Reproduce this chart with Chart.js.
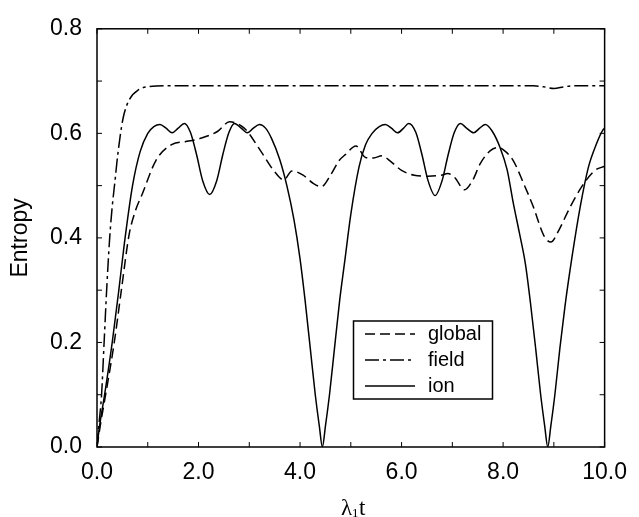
<!DOCTYPE html>
<html>
<head>
<meta charset="utf-8">
<script src="https://cdn.jsdelivr.net/npm/chart.js@4.4.1/dist/chart.umd.min.js"></script>
<style>
  body { margin: 0; background: #fff; }
</style>
</head>
<body>
<canvas id="entropyChart" width="639" height="517"></canvas>
<script>
// ---- data ----
const ionT = [0, 0.05, 0.15, 0.30, 0.43, 0.54, 0.70, 0.85, 1.00, 1.12, 1.24, 1.36, 1.48, 1.60, 1.72, 1.84, 1.96, 2.08, 2.22,
  2.36, 2.48, 2.60, 2.71, 2.84, 2.96, 3.08, 3.20, 3.32, 3.44, 3.60, 3.74, 3.88, 4.00, 4.10, 4.20, 4.30, 4.38, 4.44,
  4.50, 4.58, 4.68, 4.78, 4.88, 5.00, 5.16, 5.29, 5.42, 5.56, 5.68, 5.80, 5.92, 6.04, 6.14, 6.28, 6.40, 6.52, 6.66,
  6.80, 6.92, 7.04, 7.16, 7.28, 7.42, 7.54, 7.65, 7.78, 7.94, 8.08, 8.20, 8.32, 8.44, 8.54, 8.64, 8.74, 8.82, 8.88,
  8.94, 9.02, 9.12, 9.22, 9.36, 9.52, 9.68, 9.84, 9.97, 10.0];
const ionS = [0, 0.04, 0.10, 0.20, 0.30, 0.39, 0.50, 0.565, 0.600, 0.613, 0.617, 0.610, 0.601, 0.610, 0.619, 0.602, 0.560, 0.510, 0.483,
  0.510, 0.560, 0.602, 0.619, 0.610, 0.601, 0.610, 0.617, 0.610, 0.590, 0.550, 0.500, 0.435, 0.360, 0.280, 0.190, 0.100, 0.040, 0,
  0.040, 0.100, 0.190, 0.280, 0.355, 0.445, 0.535, 0.578, 0.600, 0.613, 0.617, 0.610, 0.601, 0.610, 0.619, 0.602, 0.560, 0.510, 0.481,
  0.510, 0.560, 0.602, 0.619, 0.610, 0.601, 0.610, 0.617, 0.605, 0.573, 0.530, 0.467, 0.410, 0.350, 0.275, 0.190, 0.100, 0.040, 0,
  0.040, 0.100, 0.190, 0.270, 0.365, 0.460, 0.535, 0.580, 0.607, 0.610];

const globalT = [0, 0.08, 0.17, 0.34, 0.48, 0.63, 0.75, 0.90, 1.16, 1.48, 1.74, 2.06, 2.38, 2.61, 2.90, 3.22, 3.48, 3.68, 3.84,
  4.06, 4.25, 4.42, 4.60, 4.77, 4.90, 5.10, 5.29, 5.45, 5.61, 5.80, 6.00, 6.25, 6.52, 6.78, 6.91, 7.05, 7.24, 7.40, 7.55,
  7.75, 7.91, 8.05, 8.20, 8.40, 8.59, 8.80, 8.94, 9.10, 9.30, 9.55, 9.81, 10.0];
const globalS = [0, 0.05, 0.10, 0.20, 0.30, 0.405, 0.45, 0.486, 0.548, 0.579, 0.584, 0.591, 0.604, 0.622, 0.610, 0.567, 0.529, 0.511, 0.528,
  0.520, 0.505, 0.498, 0.520, 0.548, 0.560, 0.576, 0.554, 0.553, 0.557, 0.545, 0.529, 0.520, 0.518, 0.520, 0.523, 0.515, 0.492, 0.510, 0.542,
  0.567, 0.573, 0.565, 0.548, 0.505, 0.461, 0.405, 0.392, 0.415, 0.455, 0.498, 0.529, 0.537];

const fieldT = [0, 0.04, 0.09, 0.14, 0.19, 0.25, 0.30, 0.35, 0.41, 0.51, 0.64, 0.83, 1.0, 1.5, 3.0, 5.0, 7.0, 8.6, 8.8, 9.0, 9.2, 9.4, 10.0];
const fieldS = [0, 0.045, 0.10, 0.20, 0.30, 0.40, 0.46, 0.505, 0.56, 0.627, 0.665, 0.684, 0.689, 0.691, 0.691, 0.691, 0.691, 0.691, 0.689, 0.686, 0.689, 0.691, 0.691];

const seriesNames = ["global", "field", "ion"];
const xTickLabels = ["0.0", "2.0", "4.0", "6.0", "8.0", "10.0"];
const yTickLabels = ["0.0", "0.2", "0.4", "0.6", "0.8"];

const FONT = "'Liberation Sans', Arial, sans-serif";

function pts(ts, vs) {
  return ts.map((t, i) => ({ x: t, y: vs[i] }));
}

// frame with inward ticks on all four sides
const framePlugin = {
  id: "frame",
  afterDatasetsDraw(chart) {
    const { ctx, chartArea: a, scales } = chart;
    ctx.save();
    ctx.strokeStyle = "#000";
    ctx.lineWidth = 1.5;
    ctx.strokeRect(a.left, a.top, a.right - a.left, a.bottom - a.top);
    ctx.lineWidth = 1;
    const len = 5;
    scales.x.ticks.forEach(t => {
      const px = scales.x.getPixelForValue(t.value);
      ctx.beginPath();
      ctx.moveTo(px, a.bottom); ctx.lineTo(px, a.bottom - len);
      ctx.moveTo(px, a.top); ctx.lineTo(px, a.top + len);
      ctx.stroke();
    });
    scales.y.ticks.forEach(t => {
      const py = scales.y.getPixelForValue(t.value);
      ctx.beginPath();
      ctx.moveTo(a.left, py); ctx.lineTo(a.left + len, py);
      ctx.moveTo(a.right, py); ctx.lineTo(a.right - len, py);
      ctx.stroke();
    });
    ctx.restore();
  }
};

// boxed legend inside the plot, and the x axis title with subscript
const legendPlugin = {
  id: "boxLegend",
  afterDraw(chart) {
    const { ctx } = chart;
    ctx.save();
    ctx.strokeStyle = "#000";
    ctx.lineWidth = 1.5;
    ctx.strokeRect(353.5, 321, 139, 78);
    chart.data.datasets.forEach((ds, i) => {
      const y = 334 + i * 26;
      ctx.beginPath();
      ctx.setLineDash(ds.borderDash || []);
      ctx.moveTo(365, y); ctx.lineTo(415, y);
      ctx.stroke();
      ctx.setLineDash([]);
      ctx.fillStyle = "#000";
      ctx.font = "20px " + FONT;
      ctx.textBaseline = "middle";
      ctx.fillText(ds.label, 428, y);
    });

    // x title: lambda_1 t
    ctx.textBaseline = "alphabetic";
    ctx.font = "23px 'Liberation Serif', serif";
    ctx.fillText("λ", 341, 515);
    ctx.font = "13px 'Liberation Serif', serif";
    ctx.fillText("1", 352, 517);
    ctx.font = "23px 'Liberation Serif', serif";
    ctx.fillText("t", 359, 515);
    ctx.restore();
  }
};

new Chart(document.getElementById("entropyChart"), {
  type: "line",
  data: {
    datasets: [
      { label: seriesNames[0], data: pts(globalT, globalS), borderDash: [10, 5] },
      { label: seriesNames[1], data: pts(fieldT, fieldS), borderDash: [14, 4, 3, 4] },
      { label: seriesNames[2], data: pts(ionT, ionS), borderDash: [] }
    ].map(d => Object.assign(d, {
      borderColor: "#000",
      borderWidth: 1.5,
      pointRadius: 0,
      fill: false,
      cubicInterpolationMode: "monotone"
    }))
  },
  options: {
    responsive: false,
    animation: false,
    layout: { padding: { top: 18, right: 26, left: 0, bottom: 0 } },
    plugins: { legend: { display: false }, tooltip: { enabled: false } },
    scales: {
      x: {
        type: "linear",
        min: 0, max: 10,
        grid: { display: false, drawTicks: false },
        border: { display: false },
        ticks: {
          stepSize: 1,
          autoSkip: false,
          maxRotation: 0,
          padding: 12,
          color: "#000",
          font: { family: FONT, size: 23 },
          callback: v => (Math.round(v) % 2 === 0 ? xTickLabels[Math.round(v) / 2] : "")
        },
        afterFit: s => { s.height = 70; }
      },
      y: {
        min: 0, max: 0.8,
        grid: { display: false, drawTicks: false },
        border: { display: false },
        ticks: {
          stepSize: 0.1,
          autoSkip: false,
          padding: 15,
          color: "#000",
          font: { family: FONT, size: 23 },
          callback: v => {
            const k = Math.round(v * 10);
            return k % 2 === 0 ? yTickLabels[k / 2] : "";
          }
        },
        title: {
          display: true,
          text: "Entropy",
          color: "#000",
          padding: { top: 7, bottom: 0 },
          font: { family: FONT, size: 23 }
        },
        afterFit: s => { s.width = 97; }
      }
    }
  },
  plugins: [framePlugin, legendPlugin]
});
</script>
</body>
</html>
